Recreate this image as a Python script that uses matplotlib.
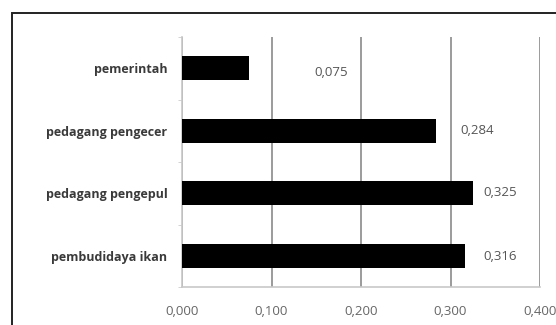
import matplotlib
matplotlib.use("Agg")
import matplotlib.pyplot as plt
from matplotlib.patches import Rectangle

categories = ["pembudidaya ikan", "pedagang pengepul", "pedagang pengecer", "pemerintah"]
values = [0.316, 0.325, 0.284, 0.075]
value_labels = ["0,316", "0,325", "0,284", "0,075"]
xticks = [0.0, 0.1, 0.2, 0.3, 0.4]
xtick_labels = ["0,000", "0,100", "0,200", "0,300", "0,400"]

# horizontal / vertical offset (pixels) of each value label from its bar end
label_dx = [35, 27, 41, 82]
label_dy = [-1, 1, 0, -4]

plt.rcParams["font.family"] = ["Open Sans", "DejaVu Sans"]

W, H = 556, 325
fig = plt.figure(figsize=(W / 100, H / 100), dpi=100)
fig.patch.set_facecolor("white")

# outer chart frame (runs off the right and bottom edges)
fig.patches.append(Rectangle((11.5 / W, -0.1), 1.2, (H - 13.5) / H + 0.1,
                             transform=fig.transFigure, fill=False,
                             edgecolor="#222222", linewidth=1.4))

left, right = 182 / W, 540 / W
top, bottom = 1 - 37 / H, 1 - 287 / H
ax = fig.add_axes([left, bottom, right - left, top - bottom])

y = list(range(len(categories)))
ax.barh(y, values, height=0.39, color="black", zorder=3)

ax.set_xlim(0, 0.4)
ax.set_ylim(-0.5, len(categories) - 0.5)

ax.set_xticks(xticks)
ax.set_xticklabels(xtick_labels, fontsize=9.5, color="#666666")
ax.set_yticks(y)
ax.set_yticklabels(categories, fontsize=9, fontweight="bold", color="#3a3a3a")
ax.tick_params(axis="x", length=0, pad=13)
ax.tick_params(axis="y", length=0, pad=10.5)

# small category-boundary ticks on the value axis
ax.set_yticks([i - 0.5 for i in range(len(categories) + 1)], minor=True)
ax.tick_params(axis="y", which="minor", length=3, color="#cccccc", direction="out")

ax.grid(axis="x", color="#808080", linewidth=1.1, zorder=0)
for s in ["top", "right"]:
    ax.spines[s].set_visible(False)
ax.spines["left"].set_color("#c8c8c8")
ax.spines["bottom"].set_color("#c8c8c8")
ax.spines["left"].set_linewidth(1.2)
ax.spines["bottom"].set_linewidth(1.2)

for yi, v, lab, dx, dy in zip(y, values, value_labels, label_dx, label_dy):
    ax.annotate(lab, xy=(v, yi), xytext=(dx * 0.72, dy * 0.72),
                textcoords="offset points", ha="center", va="center",
                fontsize=9.5, color="#555555")

fig.savefig("out.png", dpi=100, facecolor="white")
